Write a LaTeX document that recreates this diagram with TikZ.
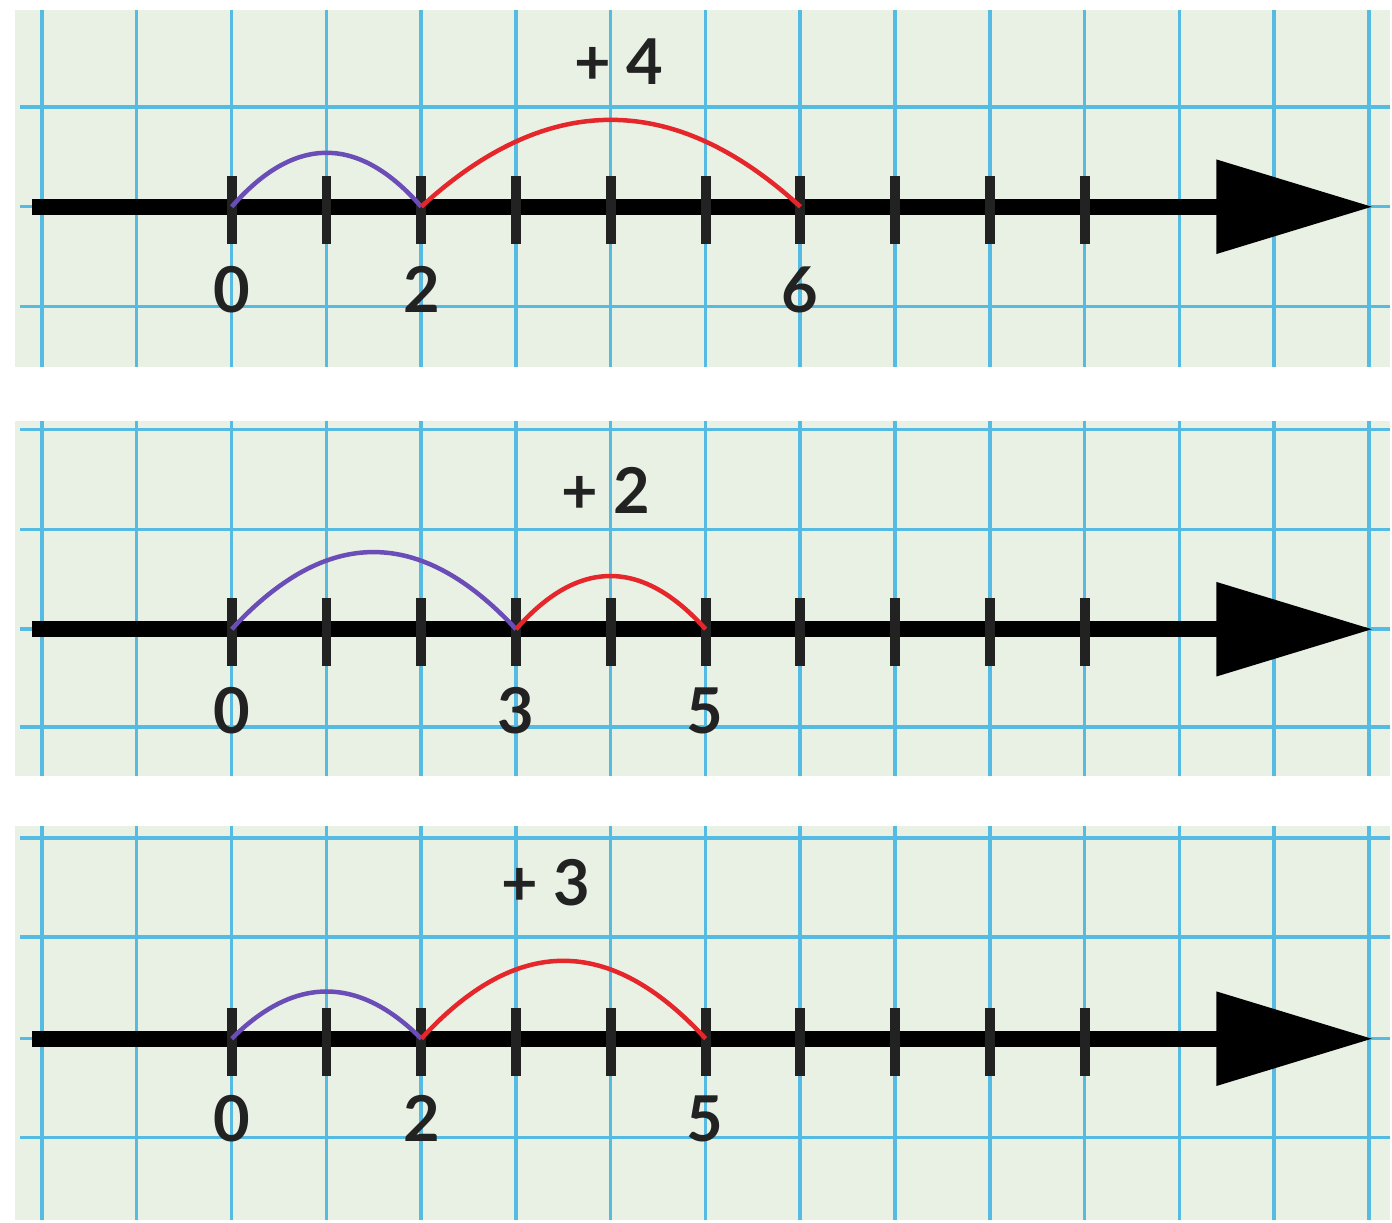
\documentclass[tikz,border=0pt]{standalone}
\usepackage{fontspec}
\setmainfont{Lato}
\usetikzlibrary{arrows.meta}
\definecolor{Paper}{HTML}{E9F1E4}
\definecolor{GridBlue}{HTML}{55BBE3}
\definecolor{JumpOne}{HTML}{6A4DB6}
\definecolor{JumpTwo}{HTML}{E5262A}
\definecolor{TickInk}{HTML}{222222}

\begin{document}
\begin{tikzpicture}[x=0.2mm,y=-0.2mm,
    gridline/.style={GridBlue,line width=0.7mm},
    numaxis/.style={black,line width=3.2mm,-{Triangle[length=31.4mm,width=18mm]}},
    tickmark/.style={TickInk,line width=2mm},
    firstjump/.style={JumpOne,line width=0.9mm},
    secondjump/.style={JumpTwo,line width=0.9mm},
    numlabel/.style={text=TickInk,font=\bfseries\fontsize{36}{40}\selectfont,inner sep=0pt},
    jumplabel/.style={text=TickInk,font=\bfseries\fontsize{36}{40}\selectfont,inner sep=0pt}]
    \fill[white] (0,0) rectangle (1392,1224);

    % panel 1: 0 + 2 + 4 = 6
    \fill[Paper] (15,10) rectangle (1392,367);
    \foreach \k in {0,...,14} \draw[gridline] ({42+94.9*\k},10) -- ({42+94.9*\k},367);
    \foreach \y in {107,207,307} \draw[gridline] (20,\y) -- (1392,\y);
    \coordinate (p1s) at (32,207);
    \coordinate (p1e) at (1375,207);
    \draw[numaxis] (p1s) -- (p1e);
    \foreach \i in {0,...,9} {
      \coordinate (p1t\i) at ({232+94.9*\i},207);
      \draw[tickmark] (p1t\i) ++(0,-31) -- ++(0,68);
    }
    \draw[firstjump] (p1t0) .. controls (295,135) and (359,135) .. (p1t2);
    \draw[secondjump] (p1t2) .. controls (548,91) and (675,91) .. (p1t6);
    \node[jumplabel] (p1plus) at (620,62) {+ 4};
    \node[numlabel] (p1n0) at (232,290) {0};
    \node[numlabel] (p1n2) at (422,290) {2};
    \node[numlabel] (p1n6) at (801,290) {6};

    % panel 2: 0 + 3 + 2 = 5
    \fill[Paper] (15,422) rectangle (1392,777);
    \foreach \k in {0,...,14} \draw[gridline] ({42+94.9*\k},422) -- ({42+94.9*\k},777);
    \foreach \y in {430,530,630,728} \draw[gridline] (20,\y) -- (1392,\y);
    \coordinate (p2s) at (32,630);
    \coordinate (p2e) at (1375,630);
    \draw[numaxis] (p2s) -- (p2e);
    \foreach \i in {0,...,9} {
      \coordinate (p2t\i) at ({232+94.9*\i},630);
      \draw[tickmark] (p2t\i) ++(0,-31) -- ++(0,68);
    }
    \draw[firstjump] (p2t0) .. controls (327,527) and (421,527) .. (p2t3);
    \draw[secondjump] (p2t3) .. controls (579,559) and (643,559) .. (p2t5);
    \node[jumplabel] (p2plus) at (607,491) {+ 2};
    \node[numlabel] (p2n0) at (232,712) {0};
    \node[numlabel] (p2n3) at (516,712) {3};
    \node[numlabel] (p2n5) at (706,712) {5};

    % panel 3: 0 + 2 + 3 = 5
    \fill[Paper] (15,827) rectangle (1392,1222);
    \foreach \k in {0,...,14} \draw[gridline] ({42+94.9*\k},827) -- ({42+94.9*\k},1222);
    \foreach \y in {839,938,1040,1139} \draw[gridline] (20,\y) -- (1392,\y);
    \coordinate (p3s) at (32,1040);
    \coordinate (p3e) at (1375,1040);
    \draw[numaxis] (p3s) -- (p3e);
    \foreach \i in {0,...,9} {
      \coordinate (p3t\i) at ({232+94.9*\i},1040);
      \draw[tickmark] (p3t\i) ++(0,-31) -- ++(0,68);
    }
    \draw[firstjump] (p3t0) .. controls (295,977) and (359,977) .. (p3t2);
    \draw[secondjump] (p3t2) .. controls (517,936) and (611,936) .. (p3t5);
    \node[jumplabel] (p3plus) at (547,884) {+ 3};
    \node[numlabel] (p3n0) at (232,1120) {0};
    \node[numlabel] (p3n2) at (422,1120) {2};
    \node[numlabel] (p3n5) at (706,1120) {5};
  \end{tikzpicture}
\end{document}
